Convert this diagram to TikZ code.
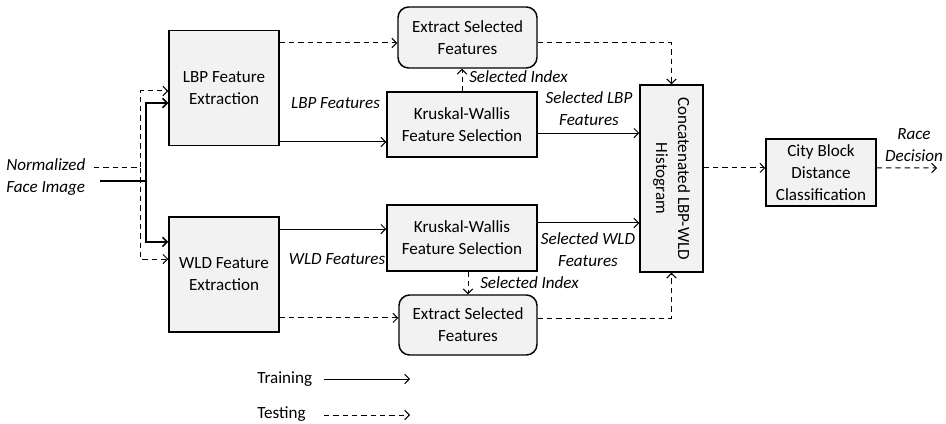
\documentclass[tikz,border=0pt]{standalone}
\usepackage{fontspec}
\setmainfont{Carlito}
\usetikzlibrary{arrows.meta}
\definecolor{boxgray}{HTML}{F2F2F2}
\newcommand{\dfont}{\fontsize{12.8}{16.5}\selectfont}
\begin{document}
\begin{tikzpicture}[x=0.75pt,y=-0.75pt,
  box/.style={draw, line width=1.1pt, fill=boxgray, align=center, font=\dfont, inner sep=0pt},
  rbox/.style={box, rounded corners=8pt},
  lab/.style={font=\dfont\itshape, align=center, inner sep=0pt},
  train/.style={-{Straight Barb[length=3.5pt,width=7pt]}, line width=0.75pt},
  test/.style={train, dash pattern=on 4pt off 3pt},
]
\useasboundingbox (0,0) rectangle (946,424);

% boxes
\node[box, minimum width=82.5pt, minimum height=86pt] (lbp) at (224,88) {LBP Feature\\Extraction};
\node[box, minimum width=82.5pt, minimum height=86.25pt] (wld) at (224,274.5) {WLD Feature\\Extraction};
\node[rbox, minimum width=104.25pt, minimum height=45.75pt] (extT) at (467.5,37.5) {Extract Selected\\Features};
\node[box, minimum width=112.5pt, minimum height=48.75pt] (kwT) at (462,124.5) {Kruskal-Wallis\\Feature Selection};
\node[box, minimum width=112.5pt, minimum height=49.5pt] (kwB) at (462,238) {Kruskal-Wallis\\Feature Selection};
\node[rbox, minimum width=103.5pt, minimum height=45pt] (extB) at (468,325) {Extract Selected\\Features};
% rotated node: north = right side, south = left side, west = top, east = bottom
\node[box, rotate=-90, minimum width=140.25pt, minimum height=47.25pt] (cat) at (671.5,178.5) {Concatenated LBP-WLD\\Histogram};
\node[box, minimum width=82.5pt, minimum height=50.25pt] (city) at (821,172.5) {City Block\\Distance\\Classification};

% input
\node[lab, align=left, anchor=west] (norm) at (6,177) {Normalized\\Face Image};
\coordinate (inD) at (94,168);
\coordinate (inS) at (100,181);
\coordinate (jD) at (140,168);
\coordinate (jS) at (146,181);
\draw[test] (inD) -- (jD) |- ([yshift=-2.25pt]lbp.west);
\draw[test] (jD) |- ([yshift=11.6pt]wld.west);
\draw[train, line width=1.2pt] (inS) -- (jS) |- ([yshift=-11.25pt]lbp.west);
\draw[train, line width=1.2pt] (jS) |- ([yshift=24.4pt]wld.west);

% top branch
\path ([yshift=33.75pt]lbp.east) coordinate (p1);
\draw[test] (p1) -- (p1 -| extT.west);
\path ([yshift=-40.5pt]lbp.east) coordinate (p2);
\draw[train] (p2) -- (p2 -| kwT.west);
\node[lab] (lbpf) at (335.5,103) {LBP Features};
\draw[test] (kwT.north) -- (kwT.north |- extT.south);
\node[lab, anchor=west] (siT) at (469,77) {Selected Index};
\path ([yshift=-4.1pt]extT.east) coordinate (p3);
\draw[test] (p3) -| (cat.west);
\path ([yshift=-6.4pt]kwT.east) coordinate (p4);
\draw[train] (p4) -- (p4 -| cat.south);
\node[lab] (slbp) at (589,109) {Selected LBP\\Features};

% bottom branch
\path ([yshift=34.1pt]wld.east) coordinate (q1);
\draw[train] (q1) -- (q1 -| kwB.west);
\node[lab] (wldf) at (337,259) {WLD Features};
\path ([yshift=11.25pt]kwB.east) coordinate (q2);
\draw[train] (q2) -- (q2 -| cat.south);
\node[lab] (swld) at (588,250) {Selected WLD\\Features};
\draw[test] (extB.north |- kwB.south) -- (extB.north);
\node[lab, anchor=west] (siB) at (480,283) {Selected Index};
\path ([yshift=-32.6pt]wld.east) coordinate (q3);
\draw[test] (q3) -- (q3 -| extB.west);
\path ([yshift=5.25pt]extB.east) coordinate (q4);
\draw[test] (q4) -| (cat.east);

% output
\path ([yshift=3.4pt]city.west) coordinate (cy);
\draw[test] (cy -| cat.north) -- (cy);
\coordinate (out) at (937,168);
\draw[test] (cy -| city.east) -- (out);
\node[lab] (race) at (914,145) {Race\\Decision};

% legend
\node[font=\dfont, anchor=west, inner sep=0pt] (ltr) at (257,379) {Training};
\coordinate (ltrA) at (324,379);
\coordinate (ltrB) at (410,379);
\draw[train] (ltrA) -- (ltrB);
\node[font=\dfont, anchor=west, inner sep=0pt] (lte) at (257,414) {Testing};
\coordinate (lteA) at (324,415);
\coordinate (lteB) at (410,415);
\draw[test] (lteA) -- (lteB);
\end{tikzpicture}
\end{document}
